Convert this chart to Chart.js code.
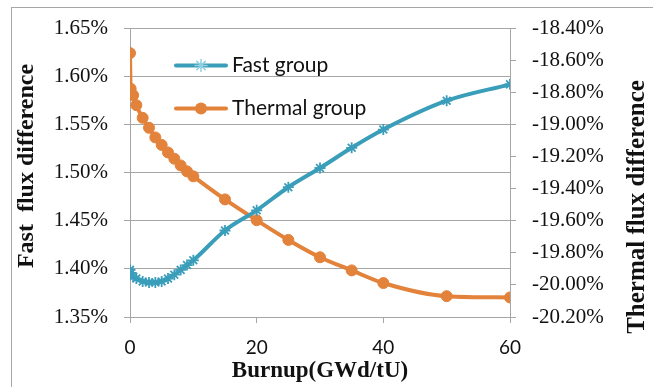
<!DOCTYPE html>
<html>
<head>
<meta charset="utf-8">
<script src="https://cdn.jsdelivr.net/npm/chart.js@4.4.1/dist/chart.umd.min.js"></script>
<style>
  html, body { margin: 0; padding: 0; background: #fff; }
</style>
</head>
<body>
<canvas id="fluxChart" width="653" height="387"></canvas>
<script>
/* ---------- data ---------- */
const burnup = [0, 0.1, 0.5, 1, 2, 3, 4, 5, 6, 7, 8, 9, 10, 15, 20, 25, 30, 35, 40, 50, 60];

// fast group difference, % (left axis)
const fastDiff = [1.399, 1.396, 1.392, 1.390, 1.387, 1.386, 1.386, 1.387, 1.390, 1.394,
                  1.399, 1.404, 1.409, 1.440, 1.461, 1.485, 1.505, 1.526, 1.545, 1.575, 1.592];

// thermal group difference, % (right axis)
const thermalDiff = [-18.553, -18.775, -18.816, -18.878, -18.957, -19.019, -19.079, -19.126,
                     -19.173, -19.212, -19.254, -19.291, -19.322, -19.466, -19.596, -19.719,
                     -19.827, -19.909, -19.988, -20.070, -20.078];

const xTicks = [0, 20, 40, 60];
const leftTicks = [1.35, 1.40, 1.45, 1.50, 1.55, 1.60, 1.65];
const rightTicks = [-20.2, -20.0, -19.8, -19.6, -19.4, -19.2, -19.0, -18.8, -18.6, -18.4];

const seriesNames = ['Fast group', 'Thermal group'];

const TEAL = '#3a9eba';
const ORANGE = '#e3823a';
const GRID = '#a6a6a6';
const SERIF = 'Liberation Serif';
const SANS = 'Lato';

/* ---------- legend, titles and frame drawn on top ---------- */
const decorPlugin = {
  id: 'decor',
  afterDraw(chart) {
    const { ctx, chartArea: a } = chart;
    ctx.save();

    // outer frame
    ctx.strokeStyle = '#a6a6a6';
    ctx.lineWidth = 1;
    ctx.strokeRect(11.5, 7.5, 700, 420);

    // axis titles
    ctx.fillStyle = '#111';
    ctx.textAlign = 'center';
    ctx.textBaseline = 'middle';
    ctx.font = 'bold 23px ' + SERIF;
    ctx.fillText('Burnup(GWd/tU)', (a.left + a.right) / 2, 371);

    ctx.save();
    ctx.translate(27, 166);
    ctx.rotate(-Math.PI / 2);
    ctx.font = 'bold 24px ' + SERIF;
    ctx.fillText('Fast  flux difference', 0, 0);
    ctx.restore();

    ctx.save();
    ctx.translate(638, 207);
    ctx.rotate(-Math.PI / 2);
    ctx.font = 'bold 25px ' + SERIF;
    ctx.fillText('Thermal flux difference', 0, 0);
    ctx.restore();

    // legend
    const rows = [
      { y: a.top + 37, color: TEAL, style: 'star', name: seriesNames[0] },
      { y: a.top + 80, color: ORANGE, style: 'circle', name: seriesNames[1] }
    ];
    const x0 = a.left + 46, x1 = a.left + 96;
    rows.forEach(r => {
      const cx = (x0 + x1) / 2;
      ctx.strokeStyle = r.color;
      ctx.lineWidth = 4;
      ctx.lineCap = 'round';
      ctx.beginPath();
      ctx.moveTo(x0, r.y);
      ctx.lineTo(x1, r.y);
      ctx.stroke();
      if (r.style === 'circle') {
        ctx.fillStyle = r.color;
        ctx.beginPath();
        ctx.arc(cx, r.y, 6, 0, Math.PI * 2);
        ctx.fill();
      } else {
        ctx.strokeStyle = '#8fd0e2';
        ctx.lineWidth = 1.5;
        Chart.helpers.drawPoint(ctx, { pointStyle: 'star', radius: 6, borderWidth: 1.5 }, cx, r.y);
      }
      ctx.fillStyle = '#111';
      ctx.textAlign = 'left';
      ctx.textBaseline = 'middle';
      ctx.font = '21px ' + SANS;
      ctx.fillText(r.name, x1 + 6, r.y);
    });

    ctx.restore();
  }
};

const canvas = document.getElementById('fluxChart');

new Chart(canvas, {
  type: 'line',
  data: {
    datasets: [
      {
        label: seriesNames[0],
        data: burnup.map((b, i) => ({ x: b, y: fastDiff[i] })),
        yAxisID: 'y',
        borderColor: TEAL,
        backgroundColor: TEAL,
        borderWidth: 4,
        pointStyle: 'star',
        pointRadius: 5.5,
        pointBorderWidth: 1.8,
        pointBorderColor: TEAL,
        cubicInterpolationMode: 'monotone'
      },
      {
        label: seriesNames[1],
        data: burnup.map((b, i) => ({ x: b, y: thermalDiff[i] })),
        yAxisID: 'y2',
        borderColor: ORANGE,
        backgroundColor: ORANGE,
        borderWidth: 4,
        pointStyle: 'circle',
        pointRadius: 5.5,
        pointBorderWidth: 1,
        pointBorderColor: ORANGE,
        cubicInterpolationMode: 'monotone'
      }
    ]
  },
  options: {
    responsive: false,
    animation: false,
    layout: { padding: { top: 26, left: 0, right: 0, bottom: 0 } },
    plugins: {
      legend: { display: false },
      tooltip: { enabled: false }
    },
    scales: {
      x: {
        type: 'linear',
        min: 0,
        max: 60,
        afterBuildTicks: s => { s.ticks = xTicks.map(v => ({ value: v })); },
        afterFit: s => { s.height = 70; },
        grid: { display: true, drawOnChartArea: false, color: GRID, tickLength: 6 },
        border: { display: true, color: GRID, width: 1 },
        ticks: {
          padding: 13,
          color: '#111',
          font: { family: SANS, size: 19 },
          maxRotation: 0
        }
      },
      y: {
        position: 'left',
        min: 1.35,
        max: 1.65,
        afterBuildTicks: s => { s.ticks = leftTicks.map(v => ({ value: v })); },
        afterFit: s => { s.width = 130; },
        grid: { color: GRID, tickLength: 6, lineWidth: 1 },
        border: { display: true, color: GRID, width: 1 },
        ticks: {
          padding: 16,
          color: '#111',
          font: { family: SERIF, size: 21 },
          callback: v => v.toFixed(2) + '%'
        }
      },
      y2: {
        position: 'right',
        min: -20.2,
        max: -18.4,
        afterBuildTicks: s => { s.ticks = rightTicks.map(v => ({ value: v })); },
        afterFit: s => { s.width = 143; },
        grid: { display: true, drawOnChartArea: false, color: GRID, tickLength: 6 },
        border: { display: true, color: GRID, width: 1 },
        ticks: {
          padding: 16,
          color: '#111',
          font: { family: SERIF, size: 21 },
          callback: v => v.toFixed(2) + '%'
        }
      }
    }
  },
  plugins: [decorPlugin]
});
</script>
</body>
</html>
